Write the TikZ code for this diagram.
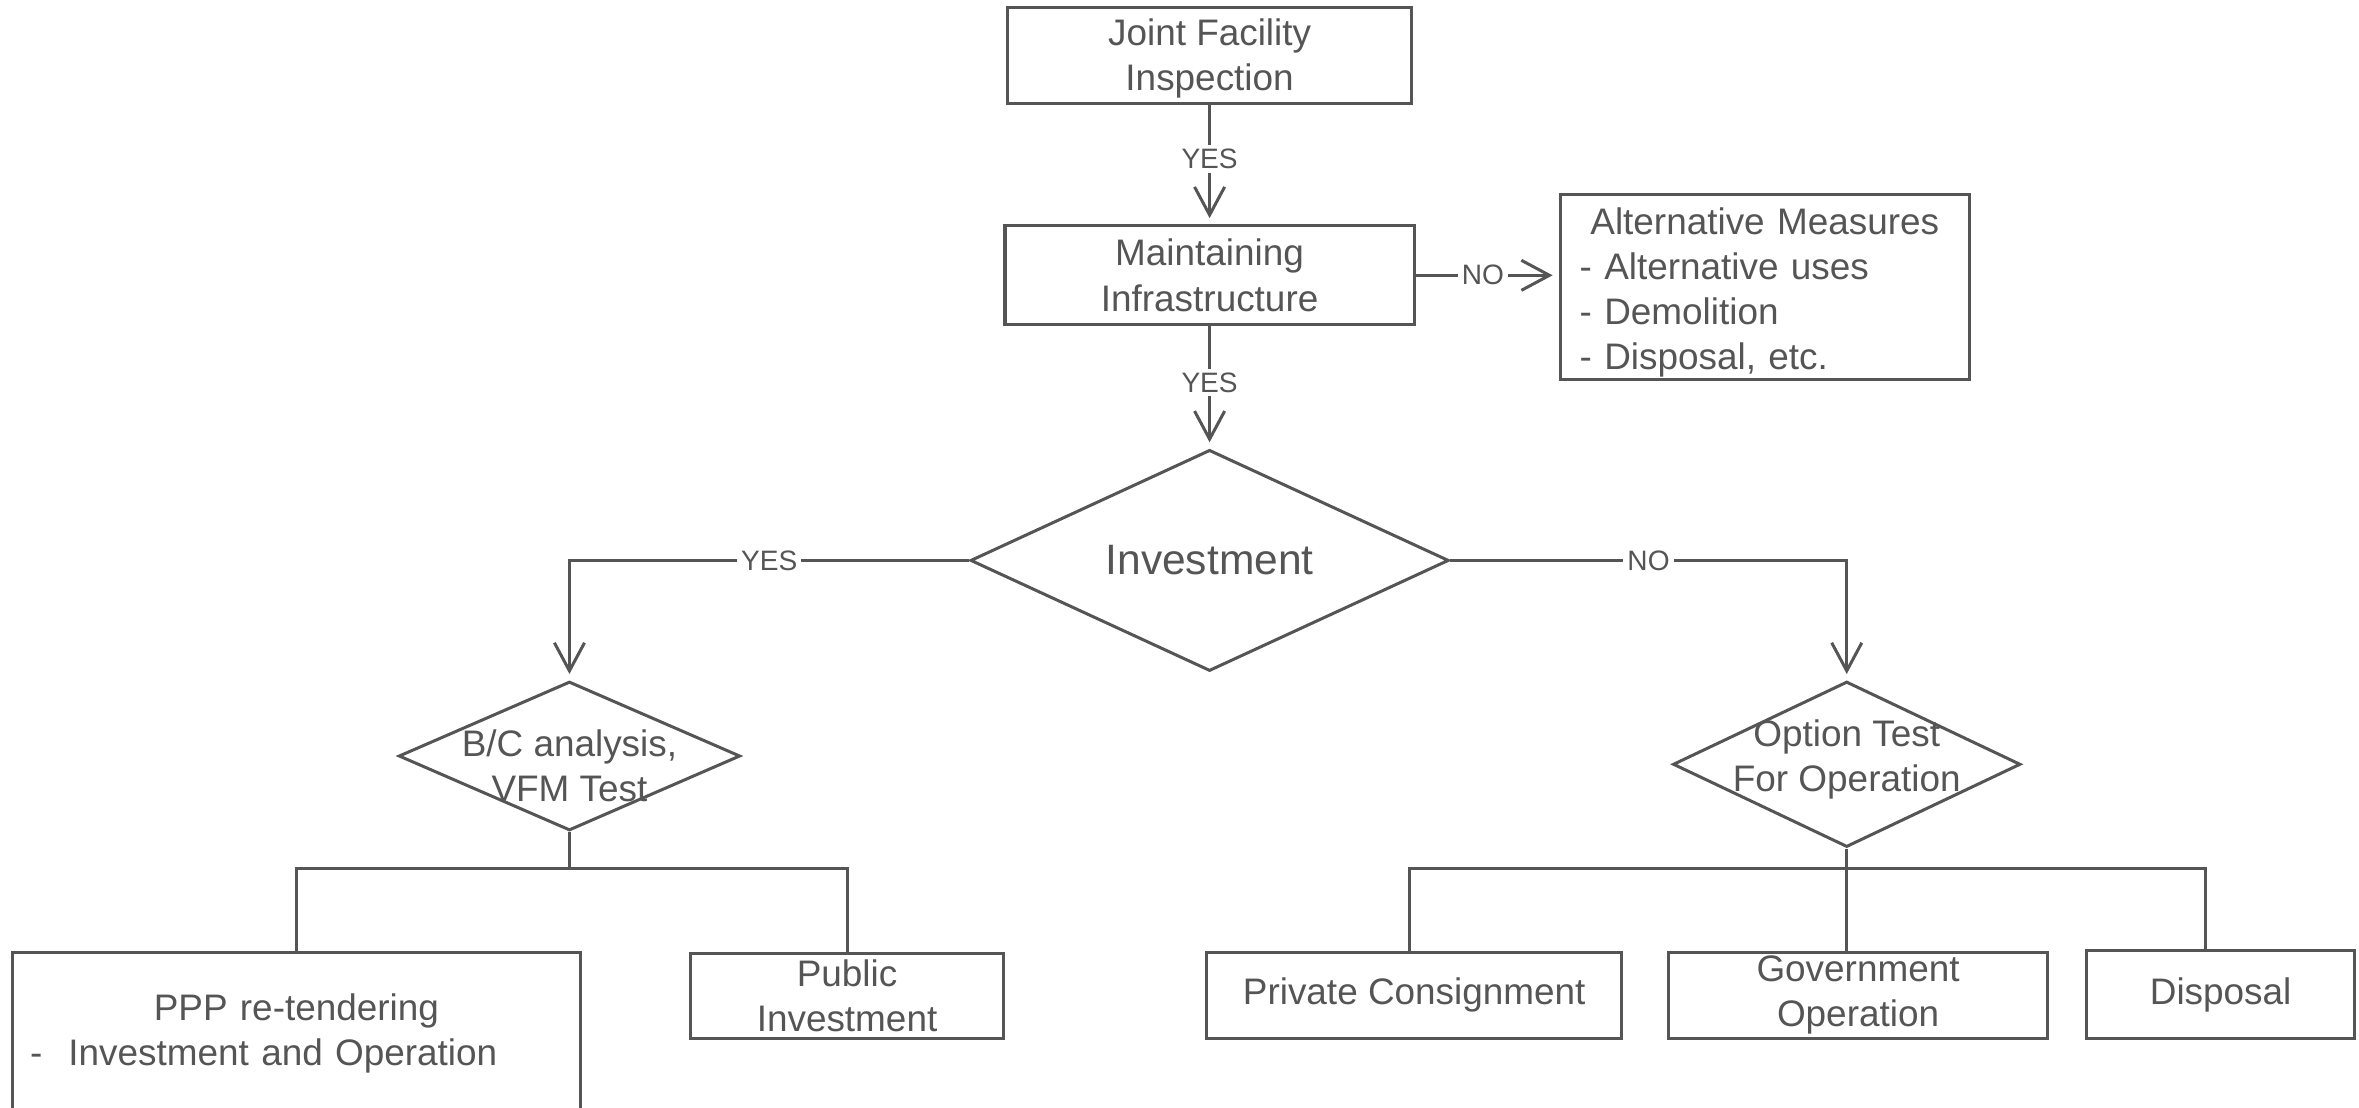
\documentclass[tikz,border=0pt]{standalone}
\usepackage{fontspec}
\setmainfont{Liberation Sans}
\usetikzlibrary{shapes.geometric,arrows.meta,positioning}
\definecolor{linegray}{HTML}{555555}
\newcommand{\linecolor}{linegray}
\newcommand{\unitpx}{0.375pt}
\tikzset{
  procbox/.style={draw=\linecolor, line width=0.75pt, text=\linecolor, align=center,
    inner sep=0pt, font=\fontsize{9.2}{11.25}\selectfont},
  decision/.style={diamond, draw=\linecolor, line width=0.75pt, text=\linecolor, inner sep=0pt, aspect=2.2},
  dtext/.style={text=\linecolor, align=center, inner sep=0pt, font=\fontsize{9.2}{11.25}\selectfont},
  answer/.style={fill=white, text=\linecolor, inner sep=1pt, font=\fontsize{7}{9}\selectfont},
  flow/.style={draw=\linecolor, line width=0.75pt},
  flowarrow/.style={flow, -{Straight Barb[length=7pt,width=7.5pt]}, shorten >=1.5pt}
}

\begin{document}
\begin{tikzpicture}[x=\unitpx, y=-\unitpx]
\clip (0,0) rectangle (1568,736);
% top of the flow
\node[procbox, minimum width=269*\unitpx, minimum height=64*\unitpx] (joint) at (804,37) {\rule{0pt}{8pt}Joint Facility\\Inspection};
\node[procbox, minimum width=272*\unitpx, minimum height=66*\unitpx] (maint) at (804,183) {Maintaining\\Infrastructure};
\node[procbox, minimum width=272*\unitpx, minimum height=123*\unitpx, text width=92.25pt, align=left] (alt) at (1173,190.5) {\rule{0pt}{9.5pt}\makebox[92.25pt]{Alternative Measures}\\- Alternative uses\\- Demolition\\- Disposal, etc.};
%decisions
\node[decision, minimum width=318*\unitpx, minimum height=147*\unitpx, font=\fontsize{10.6}{13}\selectfont] (inv) at (804,372.5) {Investment};
\node[decision, minimum width=227*\unitpx, minimum height=99*\unitpx, label={[dtext, yshift=-2.5pt]center:{B/C analysis,\\VFM Test}}] (bc) at (378.5,502.5) {};
\node[decision, minimum width=231*\unitpx, minimum height=110*\unitpx, label={[dtext, yshift=1.3pt]center:{Option Test\\For Operation}}] (opt) at (1227.5,508) {};
%outcomes
\node[procbox, minimum width=378*\unitpx, minimum height=108*\unitpx, text width=132.75pt, align=left] (ppp) at (197,687) {\makebox[132.75pt]{PPP re-tendering}\\-\hspace{6.5pt}Investment and Operation};
\node[procbox, minimum width=208*\unitpx, minimum height=56*\unitpx] (pub) at (563,662) {Public\\Investment};
\node[procbox, minimum width=276*\unitpx, minimum height=57*\unitpx] (priv) at (940,661.5) {Private Consignment};
\node[procbox, minimum width=252*\unitpx, minimum height=57*\unitpx] (gov) at (1235,661.5) {Government\\Operation};
\node[procbox, minimum width=178*\unitpx, minimum height=58*\unitpx] (disp) at (1476,661) {Disposal};
\coordinate (bcfork) at ([yshift=-24*\unitpx]bc.south);
\coordinate (optfork) at (opt.south |- bcfork);
%connectors
\draw[flowarrow] (joint) -- node[answer, pos=0.45] {YES} (maint);
\draw[flowarrow] (maint) -- node[answer, pos=0.46] {YES} (inv);
\draw[flowarrow] (maint.east) -- node[answer, pos=0.47] {NO} (maint.east -| alt.west);
\draw[flowarrow] (inv.west) -| node[answer, pos=0.25] {YES} (bc.north);
\draw[flowarrow] (inv.east) -| node[answer, pos=0.25] {NO} (opt.north);
\draw[flow] (bc.south) -- (bcfork);
\draw[flow] (ppp.north) |- (bcfork) -| (pub.north);
\draw[flow] (opt.south) -- (optfork);
\draw[flow] ([xshift=-3*\unitpx]priv.north) |- (optfork) -| ([xshift=-10*\unitpx]disp.north);
\draw[flow] (optfork) -- (optfork |- gov.north);
\end{tikzpicture}
\end{document}
